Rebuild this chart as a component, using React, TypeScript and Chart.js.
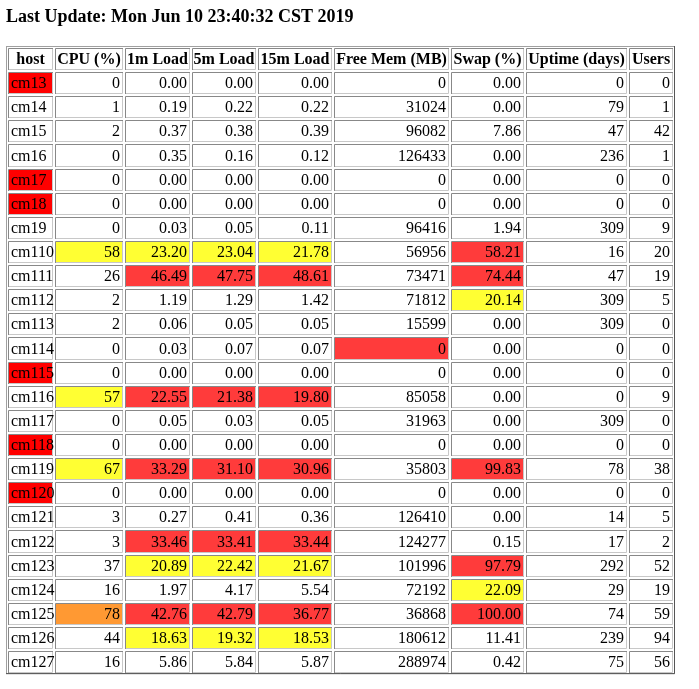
import { useEffect, useRef } from "react";
import { Chart, registerables } from "chart.js";

Chart.register(...registerables);

const title = "Last Update: Mon Jun 10 23:40:32 CST 2019";
const headers = ["host", "CPU (%)", "1m Load", "5m Load", "15m Load", "Free Mem (MB)", "Swap (%)", "Uptime (days)", "Users"];
const hosts = ["cm13", "cm14", "cm15", "cm16", "cm17", "cm18", "cm19", "cm110", "cm111", "cm112", "cm113", "cm114", "cm115", "cm116", "cm117", "cm118", "cm119", "cm120", "cm121", "cm122", "cm123", "cm124", "cm125", "cm126", "cm127"];
const cpu = [0, 1, 2, 0, 0, 0, 0, 58, 26, 2, 2, 0, 0, 57, 0, 0, 67, 0, 3, 3, 37, 16, 78, 44, 16];
const load1 = ["0.00", "0.19", "0.37", "0.35", "0.00", "0.00", "0.03", "23.20", "46.49", "1.19", "0.06", "0.03", "0.00", "22.55", "0.05", "0.00", "33.29", "0.00", "0.27", "33.46", "20.89", "1.97", "42.76", "18.63", "5.86"];
const load5 = ["0.00", "0.22", "0.38", "0.16", "0.00", "0.00", "0.05", "23.04", "47.75", "1.29", "0.05", "0.07", "0.00", "21.38", "0.03", "0.00", "31.10", "0.00", "0.41", "33.41", "22.42", "4.17", "42.79", "19.32", "5.84"];
const load15 = ["0.00", "0.22", "0.39", "0.12", "0.00", "0.00", "0.11", "21.78", "48.61", "1.42", "0.05", "0.07", "0.00", "19.80", "0.05", "0.00", "30.96", "0.00", "0.36", "33.44", "21.67", "5.54", "36.77", "18.53", "5.87"];
const freeMem = [0, 31024, 96082, 126433, 0, 0, 96416, 56956, 73471, 71812, 15599, 0, 0, 85058, 31963, 0, 35803, 0, 126410, 124277, 101996, 72192, 36868, 180612, 288974];
const swap = ["0.00", "0.00", "7.86", "0.00", "0.00", "0.00", "1.94", "58.21", "74.44", "20.14", "0.00", "0.00", "0.00", "0.00", "0.00", "0.00", "99.83", "0.00", "0.00", "0.15", "97.79", "22.09", "100.00", "11.41", "0.42"];
const uptime = [0, 79, 47, 236, 0, 0, 309, 16, 47, 309, 309, 0, 0, 0, 309, 0, 78, 0, 14, 17, 292, 29, 74, 239, 75];
const users = [0, 1, 42, 1, 0, 0, 9, 20, 19, 5, 0, 0, 0, 9, 0, 0, 38, 0, 5, 2, 52, 19, 59, 94, 56];
// per-row cell status: h=host down, r=red, y=yellow, o=orange, .=none
const status = [
  "h........", ".........", ".........", ".........", "h........", "h........", ".........",
  ".yyyy.r..", "..rrr.r..", "......y..", ".........", ".....r...", "h........", ".yrrr....",
  ".........", "h........", ".yrrr.r..", "h........", ".........", "..rrr....", "..yyy.r..",
  "......y..", ".orrr.r..", "..yyy....", ".........",
];

const W = 699, H = 689;
const colEdges = [8, 55, 125, 192, 258, 334, 451, 526, 629, 675];
const rowPitch = 24.12, tableTop = 46;
const fills: Record<string, string> = { h: "#ff0000", r: "#ff3b3b", y: "#ffff33", o: "#ff9933" };

const App = () => {
  const ref = useRef<HTMLCanvasElement>(null);
  useEffect(() => {
    if (!ref.current) return;
    const yMin = -tableTop / rowPitch;
    const tablePlugin = {
      id: "table",
      afterDraw(chart: any) {
        const ctx = chart.ctx as CanvasRenderingContext2D;
        const xs = chart.scales.x, ys = chart.scales.y;
        ctx.save();
        ctx.fillStyle = "#000";
        ctx.font = "bold 18px 'Liberation Serif'";
        ctx.textBaseline = "alphabetic";
        ctx.textAlign = "left";
        ctx.fillText(title, 6, 22);
        // outer border
        const L = xs.getPixelForValue(6), R = xs.getPixelForValue(675);
        const T = ys.getPixelForValue(0), B = ys.getPixelForValue(hosts.length + 1) + 1;
        ctx.strokeStyle = "#a0a0a0";
        ctx.lineWidth = 1;
        ctx.strokeRect(L + 0.5, T + 0.5, R - L - 1, B - T - 1);
        ctx.strokeStyle = "#555";
        ctx.beginPath();
        ctx.moveTo(R - 0.5, T); ctx.lineTo(R - 0.5, B - 0.5); ctx.lineTo(L, B - 0.5);
        ctx.stroke();
        const rows = [headers, ...hosts.map((h, i) => [h, String(cpu[i]), load1[i], load5[i], load15[i], String(freeMem[i]), swap[i], String(uptime[i]), String(users[i])])];
        rows.forEach((row, r) => {
          const top = Math.round(ys.getPixelForValue(r)) + 2;
          const bot = Math.round(ys.getPixelForValue(r + 1));
          row.forEach((txt, c) => {
            const x0 = Math.round(xs.getPixelForValue(colEdges[c]));
            const x1 = Math.round(xs.getPixelForValue(colEdges[c + 1])) - 2;
            const st = r > 0 ? status[r - 1][c] : ".";
            if (fills[st]) {
              ctx.fillStyle = fills[st];
              ctx.fillRect(x0 + 1, top + 1, x1 - x0 - 1, bot - top - 1);
            }
            ctx.strokeStyle = "#888";
            ctx.beginPath();
            ctx.moveTo(x0 + 0.5, bot); ctx.lineTo(x0 + 0.5, top + 0.5); ctx.lineTo(x1, top + 0.5);
            ctx.stroke();
            ctx.strokeStyle = "#c8c8c8";
            ctx.beginPath();
            ctx.moveTo(x1 - 0.5, top + 1); ctx.lineTo(x1 - 0.5, bot - 0.5); ctx.lineTo(x0 + 1, bot - 0.5);
            ctx.stroke();
            ctx.fillStyle = "#000";
            ctx.textBaseline = "middle";
            const ym = (top + bot) / 2 + 1;
            if (r === 0) {
              ctx.font = "bold 16px 'Liberation Serif'";
              ctx.textAlign = "center";
              ctx.fillText(txt, (x0 + x1) / 2, ym);
            } else if (c === 0) {
              ctx.font = "16px 'Liberation Serif'";
              ctx.textAlign = "left";
              ctx.fillText(txt, x0 + 3, ym);
            } else {
              ctx.font = "16px 'Liberation Serif'";
              ctx.textAlign = "right";
              ctx.fillText(txt, x1 - 3, ym);
            }
          });
        });
        ctx.restore();
      },
    };
    const chart = new Chart(ref.current, {
      type: "scatter",
      data: { datasets: [{ data: [] }] },
      options: {
        animation: false,
        responsive: false,
        layout: { padding: 0 },
        plugins: { legend: { display: false }, tooltip: { enabled: false } },
        scales: {
          x: { type: "linear", min: 0, max: W, display: false },
          y: { type: "linear", reverse: true, min: yMin, max: yMin + H / rowPitch, display: false },
        },
      },
      plugins: [tablePlugin],
    });
    return () => chart.destroy();
  }, []);
  return (
    <div style={{ position: "absolute", left: 0, top: 0, width: W, height: H, background: "#fff" }}>
      <canvas ref={ref} width={W} height={H} style={{ width: W, height: H }} />
    </div>
  );
};

export default App;
